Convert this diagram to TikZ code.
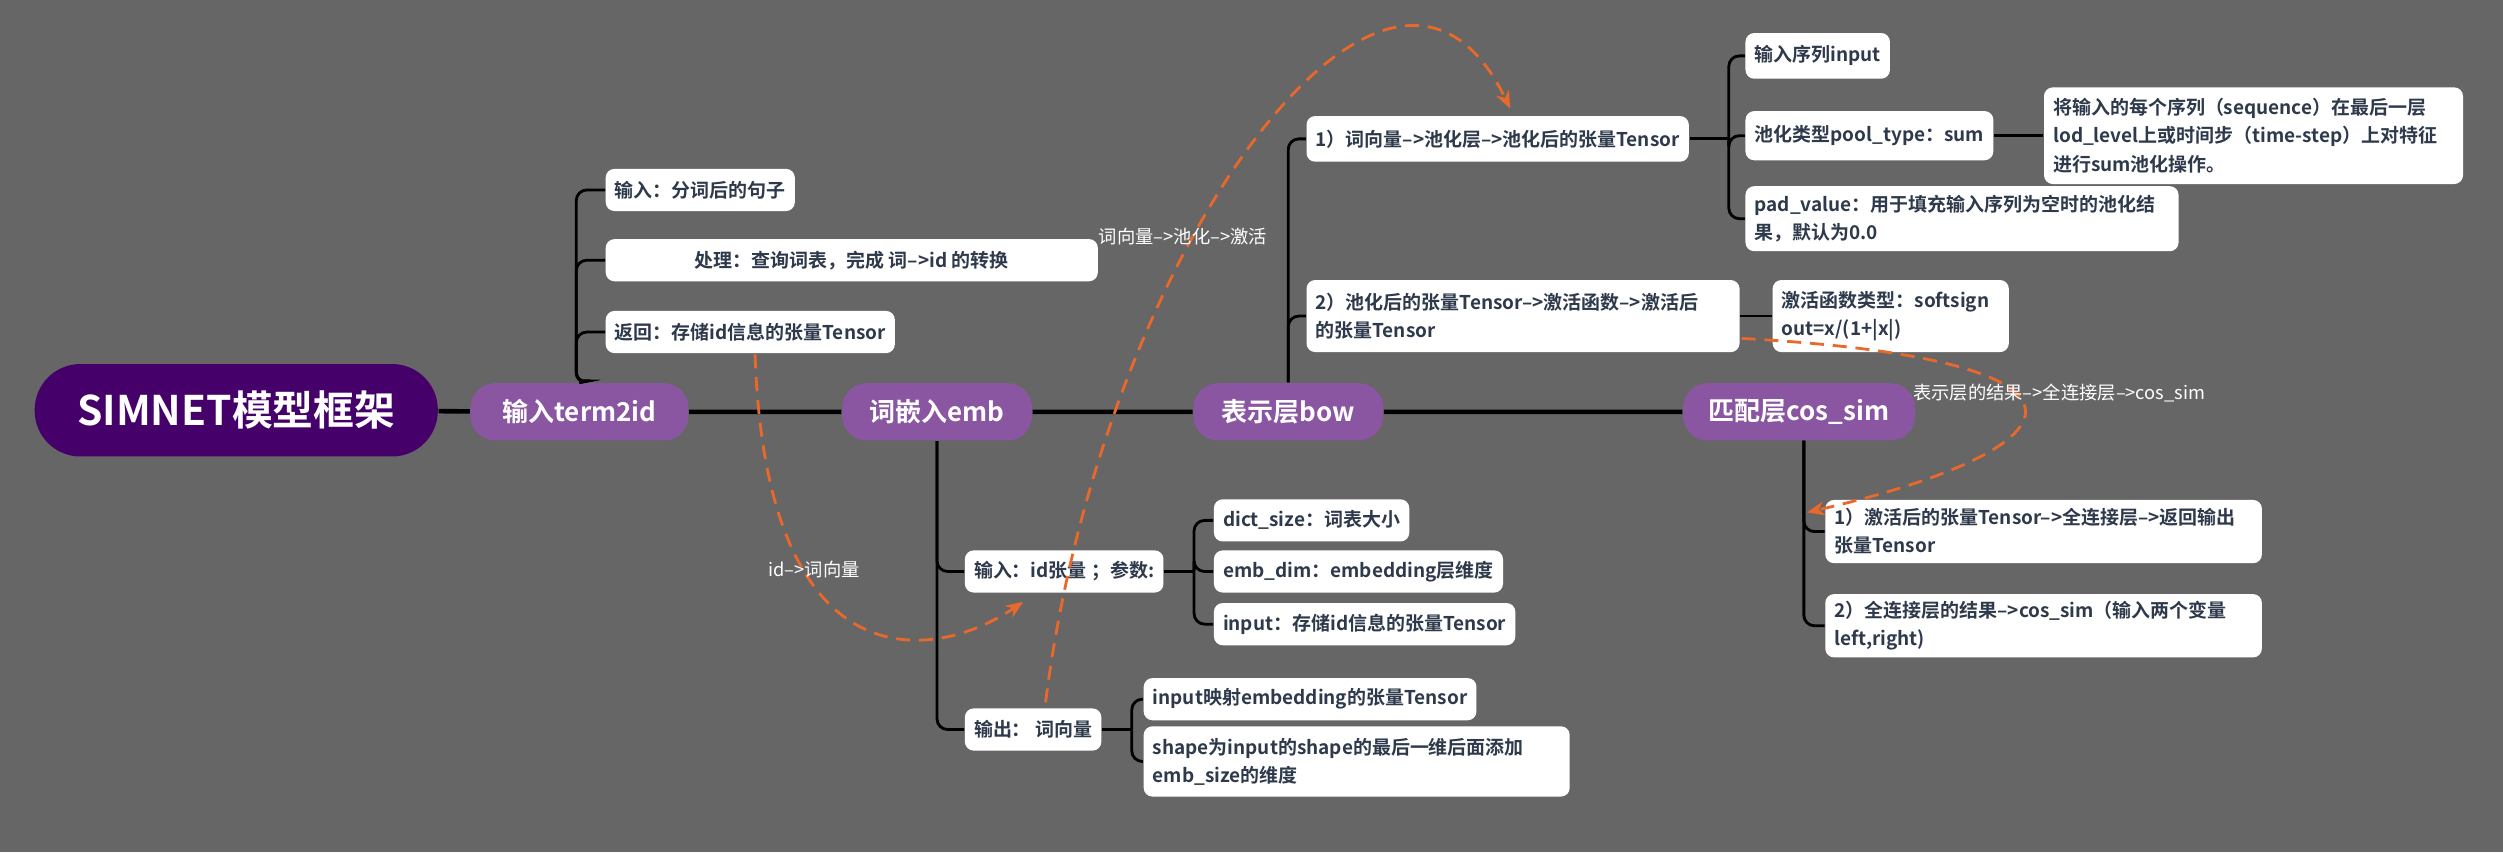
\documentclass[tikz,border=0pt]{standalone}
\usepackage{fontspec}
\setmainfont{Noto Sans CJK SC}[BoldFont={Noto Sans CJK SC Bold}]
\usetikzlibrary{arrows.meta}
\definecolor{bg}{HTML}{666666}
\definecolor{rootc}{HTML}{45006A}
\definecolor{mainc}{HTML}{8A56A1}
\definecolor{txt}{HTML}{2E3A4C}
\definecolor{orangec}{HTML}{E8692B}
\begin{document}
\begin{tikzpicture}[x=0.015963cm,y=-0.015963cm,
  leaf/.style={fill=white,rounded corners=2.5pt,font=\bfseries\fontsize{5.4}{8}\selectfont,text=txt,align=left,anchor=west,inner xsep=2.6pt,inner ysep=2pt,minimum height=12pt},
  mainn/.style={fill=mainc,rounded corners=7pt,text=white,font=\bfseries\fontsize{7.4}{9}\selectfont,minimum height=16.3pt,inner xsep=7pt},
  conn/.style={line width=0.8pt,rounded corners=3pt},
  mline/.style={line width=1.3pt},
  dsh/.style={draw=orangec,line width=0.8pt,dash pattern=on 4pt off 2.5pt,-{Stealth[length=5pt,width=4pt]}},
  lab/.style={text=white,font=\fontsize{5.2}{6}\selectfont}]
\fill[bg] (0,0) rectangle (1568,534);
\useasboundingbox (0,0) rectangle (1568,534);
% main nodes
\node[fill=rootc,rounded corners=13pt,text=white,font=\bfseries\fontsize{11.6}{13}\selectfont,minimum width=114.7pt,minimum height=26.3pt] (root) at (148,257) {SIMNET模型框架};
\node[mainn,minimum width=62pt] (t2id) at (363,258) {输入term2id};
\node[mainn,minimum width=54pt] (emb) at (587,258) {词嵌入emb};
\node[mainn,minimum width=54pt] (bow) at (807,258) {表示层bow};
\node[mainn,minimum width=66pt] (cos) at (1127,258) {匹配层cos\_sim};
\draw[mline] (root) -- (t2id) -- (emb) -- (bow) -- (cos);
% term2id
\node[leaf] (a1) at (379,119) {输入：分词后的句子};
\node[leaf,minimum width=140pt] (a2) at (379,163) {处理：查询词表，完成 词-->id 的转换};
\node[leaf] (a3) at (379,208) {返回：存储id信息的张量Tensor};
\foreach \n in {a1,a2,a3} \draw[conn] (t2id.north) -- (361,240) |- (\n.west);
% emb
\node[leaf] (e1) at (604,358) {输入：id张量 ；参数:};
\node[leaf] (e2) at (604,457) {输出： 词向量};
\foreach \n in {e1,e2} \draw[conn] (emb.south) |- (\n.west);
\coordinate (e1j) at (748,358);
\node[leaf] (e11) at (760,326) {dict\_size：词表大小};
\node[leaf] (e12) at (760,358) {emb\_dim：embedding层维度};
\node[leaf] (e13) at (760,391) {input：存储id信息的张量Tensor};
\draw[conn] (e1.east) -- (e1j);
\foreach \n in {e11,e12,e13} \draw[conn] (e1j) |- (\n.west);
\coordinate (e2j) at (709,457);
\node[leaf] (e21) at (716,438) {input映射embedding的张量Tensor};
\node[leaf,text width=116pt,minimum height=20pt] (e22) at (716,477) {shape为input的shape的最后一维后面添加\\emb\_size的维度};
\draw[conn] (e2.east) -- (e2j);
\foreach \n in {e21,e22} \draw[conn] (e2j) |- (\n.west);
% bow
\node[leaf,minimum height=13pt] (b1) at (818,87) {1）词向量-->池化层-->池化后的张量Tensor};
\node[leaf,text width=118pt,minimum height=20.5pt] (b2) at (818,198) {2）池化后的张量Tensor-->激活函数-->激活后\\的张量Tensor};
\foreach \n in {b1,b2} \draw[conn] (bow.north) |- (\n.west);
\coordinate (b1j) at (1083,87);
\node[leaf,minimum height=13pt] (b11) at (1093,35) {输入序列input};
\node[leaf,minimum height=14pt] (b12) at (1093,85) {池化类型pool\_type：sum};
\node[leaf,text width=118pt,minimum height=18.5pt] (b13) at (1093,137) {pad\_value：用于填充输入序列为空时的池化结\\果，默认为0.0};
\draw[conn] (b1.east) -- (b1j);
\foreach \n in {b11,b12,b13} \draw[conn] (b1j) |- (\n.west);
\node[leaf,text width=114pt,minimum height=27.5pt] (b121) at (1280,85) {将输入的每个序列（sequence）在最后一层\\lod\_level上或时间步（time-step）上对特征\\进行sum池化操作。};
\draw[conn] (b12.east) -- (b121.west);
\node[leaf,text width=62pt,minimum height=20.5pt] (b21) at (1110,198) {激活函数类型：softsign\\out=x/(1+|x|)};
\draw[conn] (b2.east) -- (b21.west);
% cos
\node[leaf,text width=119pt,minimum height=18pt] (c1) at (1143,333) {1）激活后的张量Tensor-->全连接层-->返回输出\\张量Tensor};
\node[leaf,text width=119pt,minimum height=18pt] (c2) at (1143,392) {2）全连接层的结果-->cos\_sim（输入两个变量\\left,right)};
\foreach \n in {c1,c2} \draw[conn] (1130,276) |- (\n.west);
% dashed relations
\coordinate (d1s) at (473,222);
\coordinate (d1e) at (641,377);
\draw[dsh] (d1s) .. controls (480,430) and (585,415) .. (d1e);
\node[lab] (l1) at (510,357) {id-->词向量};
\coordinate (d2s) at (655,440);
\coordinate (d2e) at (946,68);
\draw[dsh] (d2s) .. controls (690,160) and (870,-90) .. (d2e);
\node[lab] (l2) at (741,148) {词向量-->池化-->激活};
\coordinate (d3s) at (1091,212);
\coordinate (d3e) at (1132,321);
\draw[dsh] (d3s) .. controls (1330,225) and (1310,280) .. (d3e);
\node[lab] (l3) at (1290,246) {表示层的结果-->全连接层-->cos\_sim};
\end{tikzpicture}
\end{document}
